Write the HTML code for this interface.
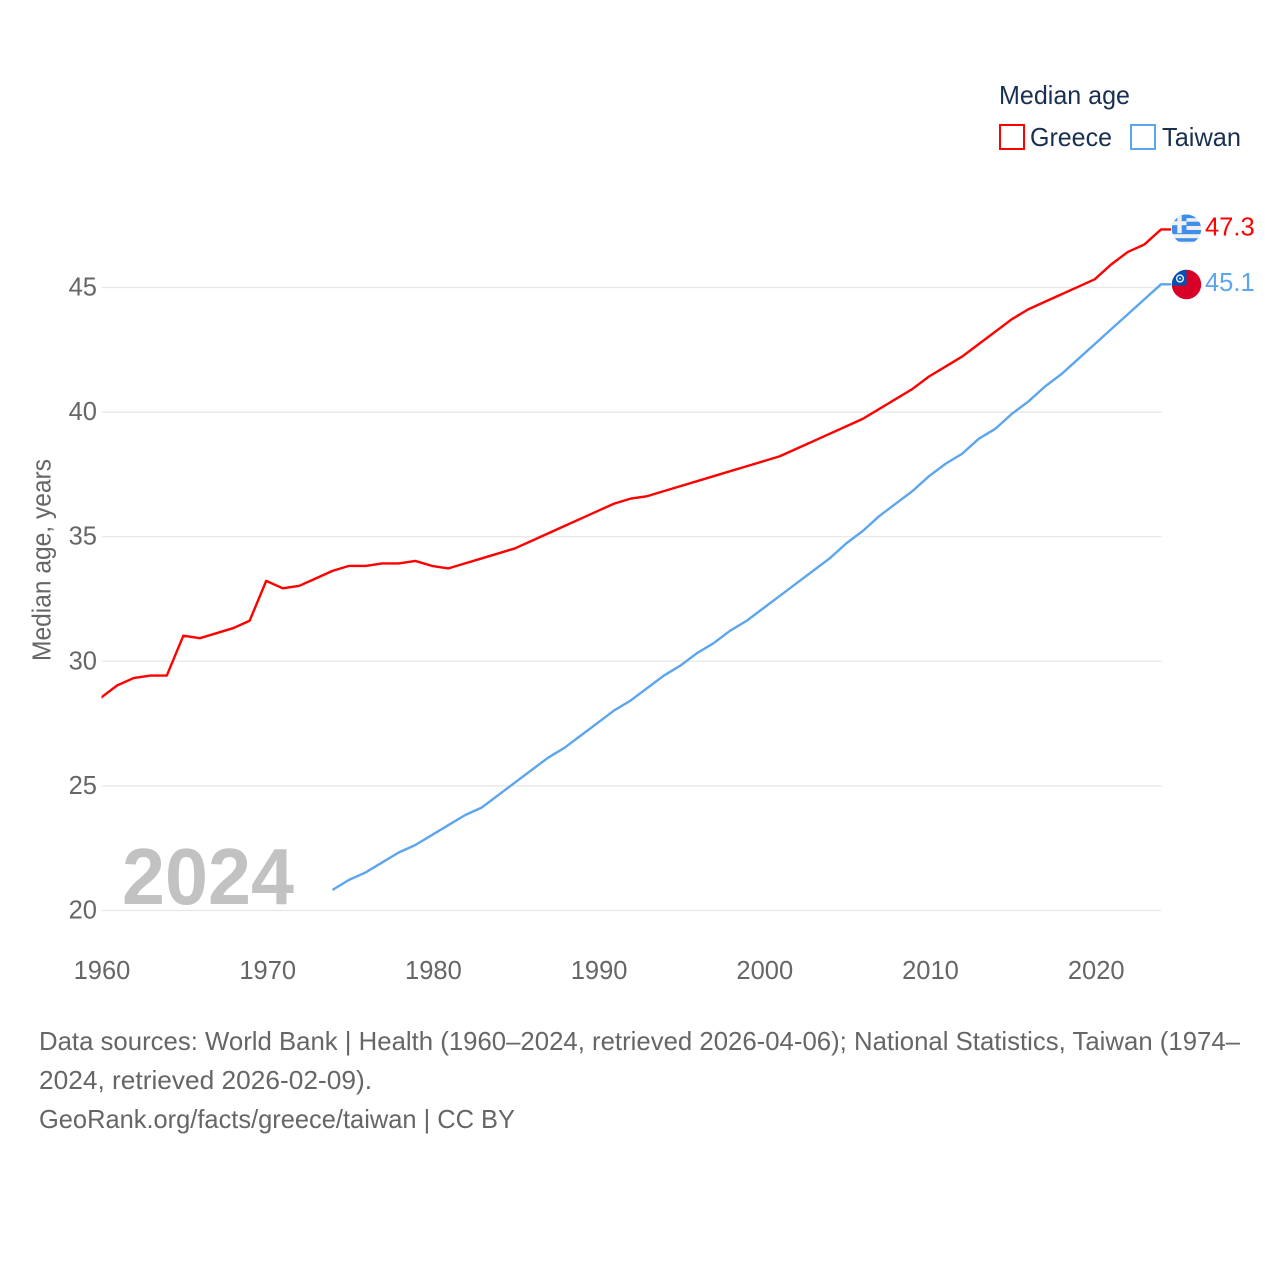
<!DOCTYPE html>
<html lang="en">
<head>
<meta charset="utf-8">
<title>Median age: Greece and Taiwan</title>
<style>
  html, body { margin: 0; padding: 0; background: #fff; }
  svg { display: block; font-family: "Liberation Sans", sans-serif; }
</style>
</head>
<body>
<svg id="chart" width="1280" height="1280" viewBox="0 0 1280 1280" xmlns="http://www.w3.org/2000/svg">
  <defs>
    <clipPath id="flag-clip"><circle cx="0" cy="0" r="14.7"></circle></clipPath>
    <clipPath id="plot-clip"><rect x="101.5" y="150" width="1100" height="800"></rect></clipPath>
  </defs>
  <rect width="1280" height="1280" fill="#fff"></rect>

  <g id="grid"></g>
  <g id="y-ticks"></g>
  <g id="x-ticks"></g>

  <text x="0" y="0" transform="translate(50.5 560) rotate(-90)" text-anchor="middle" font-size="25.5" fill="#666" textLength="202" lengthAdjust="spacingAndGlyphs">Median age, years</text>

  <text x="122" y="904" font-size="80" font-weight="700" fill="#c2c2c2" textLength="172" lengthAdjust="spacingAndGlyphs">2024</text>

  <g id="series" clip-path="url(#plot-clip)"></g>

  <g id="flag-greece">
    <g clip-path="url(#flag-clip)">
      <rect x="-15" y="-15" width="30" height="30" fill="#f0f0f0"></rect>
      <rect x="-15" y="-15" width="30" height="4" fill="#3f8eea"></rect>
      <rect x="-15" y="-7.5" width="30" height="4.3" fill="#3f8eea"></rect>
      <rect x="-15" y="0.8" width="30" height="4.2" fill="#3f8eea"></rect>
      <rect x="-15" y="9" width="30" height="3.5" fill="#3f8eea"></rect>
      <rect x="-15" y="-15" width="15" height="19" fill="#3f8eea"></rect>
      <rect x="-15" y="-8" width="15" height="4" fill="#f0f0f0"></rect>
      <rect x="-9.2" y="-15" width="4.4" height="19" fill="#f0f0f0"></rect>
    </g>
  </g>

  <g id="flag-taiwan">
    <g clip-path="url(#flag-clip)">
      <rect x="-15" y="-15" width="30" height="30" fill="#d80027"></rect>
      <rect x="-15" y="-15" width="15" height="16" fill="#0052b4"></rect>
      <circle cx="-6.5" cy="-6" r="3.4" fill="none" stroke="#dfe9f7" stroke-width="1.5"></circle>
      <circle cx="-6.5" cy="-6" r="1" fill="#dfe9f7"></circle>
    </g>
  </g>

  <g id="end-labels"></g>

  <text x="999" y="104" font-size="26" fill="#1a3050" textLength="131" lengthAdjust="spacingAndGlyphs">Median age</text>
  <g>
    <rect x="1000" y="125" width="24" height="24" fill="#fff" stroke="#ff0000" stroke-width="2"></rect>
    <text x="1030" y="146" font-size="26" fill="#1a3050" textLength="82" lengthAdjust="spacingAndGlyphs">Greece</text>
  </g>
  <g>
    <rect x="1131" y="125" width="24" height="24" fill="#fff" stroke="#5da5ec" stroke-width="2"></rect>
    <text x="1162" y="146" font-size="26" fill="#1a3050" textLength="79" lengthAdjust="spacingAndGlyphs">Taiwan</text>
  </g>

  <g font-size="26" fill="#666">
    <text x="39" y="1050" textLength="1201" lengthAdjust="spacingAndGlyphs">Data sources: World Bank | Health (1960–2024, retrieved 2026-04-06); National Statistics, Taiwan (1974–</text>
    <text x="39" y="1089" textLength="333" lengthAdjust="spacingAndGlyphs">2024, retrieved 2026-02-09).</text>
    <text x="39" y="1128" textLength="476" lengthAdjust="spacingAndGlyphs">GeoRank.org/facts/greece/taiwan | CC BY</text>
  </g>
</svg>

<script>
const greeceStartYear = 1960;
const taiwanStartYear = 1974;
const greeceValues = [28.5, 29.0, 29.3, 29.4, 29.4, 31.0, 30.9, 31.1, 31.3, 31.6,
  33.2, 32.9, 33.0, 33.3, 33.6, 33.8, 33.8, 33.9, 33.9, 34.0,
  33.8, 33.7, 33.9, 34.1, 34.3, 34.5, 34.8, 35.1, 35.4, 35.7,
  36.0, 36.3, 36.5, 36.6, 36.8, 37.0, 37.2, 37.4, 37.6, 37.8,
  38.0, 38.2, 38.5, 38.8, 39.1, 39.4, 39.7, 40.1, 40.5, 40.9,
  41.4, 41.8, 42.2, 42.7, 43.2, 43.7, 44.1, 44.4, 44.7, 45.0,
  45.3, 45.9, 46.4, 46.7, 47.3];
const taiwanValues = [20.8, 21.2, 21.5, 21.9, 22.3, 22.6,
  23.0, 23.4, 23.8, 24.1, 24.6, 25.1, 25.6, 26.1, 26.5, 27.0,
  27.5, 28.0, 28.4, 28.9, 29.4, 29.8, 30.3, 30.7, 31.2, 31.6,
  32.1, 32.6, 33.1, 33.6, 34.1, 34.7, 35.2, 35.8, 36.3, 36.8,
  37.4, 37.9, 38.3, 38.9, 39.3, 39.9, 40.4, 41.0, 41.5, 42.1,
  42.7, 43.3, 43.9, 44.5, 45.1];
const yTickValues = [20, 25, 30, 35, 40, 45];
const xTickYears = [1960, 1970, 1980, 1990, 2000, 2010, 2020];

const SVG_NS = 'http://www.w3.org/2000/svg';
const PLOT_LEFT = 102;
const PLOT_RIGHT = 1161.5;
const STUB_END = 1171;
const FLAG_X = 1186.5;

function xScale(year) {
  return 100.5 + (year - 1960) * (1094.7 - 100.5) / 60;
}
function yScale(value) {
  return 910.5 - (value - 20) * (910.5 - 287.5) / 25;
}
function make(tag, attrs, parent) {
  const el = document.createElementNS(SVG_NS, tag);
  Object.keys(attrs).forEach(function (k) { el.setAttribute(k, attrs[k]); });
  parent.appendChild(el);
  return el;
}

const gridGroup = document.getElementById('grid');
const yTickGroup = document.getElementById('y-ticks');
yTickValues.forEach(function (v) {
  const line = make('line', { x1: PLOT_LEFT, x2: PLOT_RIGHT, y1: yScale(v), y2: yScale(v), stroke: '#e6e6e6', 'stroke-width': 1.2 }, gridGroup);
  
  
  const label = make('text', { x: 97, y: yScale(v) + 8, 'text-anchor': 'end', 'font-size': 25.5, fill: '#666' }, yTickGroup);
  label.textContent = String(v);
  
  
});

const xTickGroup = document.getElementById('x-ticks');
xTickYears.forEach(function (yr) {
  const label = make('text', { x: xScale(yr) + 1.5, y: 979, 'text-anchor': 'middle', 'font-size': 25.5, fill: '#666' }, xTickGroup);
  label.textContent = String(yr);
  
  
});

function linePoints(values, startYear) {
  const pts = values.map(function (v, i) {
    return xScale(startYear + i).toFixed(2) + ',' + (yScale(v) - 0.7).toFixed(2);
  });
  pts.push(STUB_END + ',' + (yScale(values[values.length - 1]) - 0.7).toFixed(2));
  return pts.join(' ');
}

const seriesGroup = document.getElementById('series');
const greeceLine = make('polyline', { points: linePoints(greeceValues, greeceStartYear), fill: 'none', stroke: '#ff0000', 'stroke-width': 2.4, 'stroke-linejoin': 'round' }, seriesGroup);


const taiwanLine = make('polyline', { points: linePoints(taiwanValues, taiwanStartYear), fill: 'none', stroke: '#5da5ec', 'stroke-width': 2.4, 'stroke-linejoin': 'round' }, seriesGroup);



const greeceLast = greeceValues[greeceValues.length - 1];
const taiwanLast = taiwanValues[taiwanValues.length - 1];
document.getElementById('flag-greece').setAttribute('transform', 'translate(' + FLAG_X + ' ' + (yScale(greeceLast) - 1) + ')');
document.getElementById('flag-taiwan').setAttribute('transform', 'translate(' + FLAG_X + ' ' + (yScale(taiwanLast) - 0.5) + ')');

const endGroup = document.getElementById('end-labels');
const greeceEnd = make('text', { x: 1205, y: yScale(greeceLast) + 5.5, 'font-size': 25.5, fill: '#ff0000' }, endGroup);
greeceEnd.textContent = greeceLast.toFixed(1);


const taiwanEnd = make('text', { x: 1205, y: yScale(taiwanLast) + 6, 'font-size': 25.5, fill: '#5da5ec' }, endGroup);
taiwanEnd.textContent = taiwanLast.toFixed(1);


</script>
</body>
</html>
